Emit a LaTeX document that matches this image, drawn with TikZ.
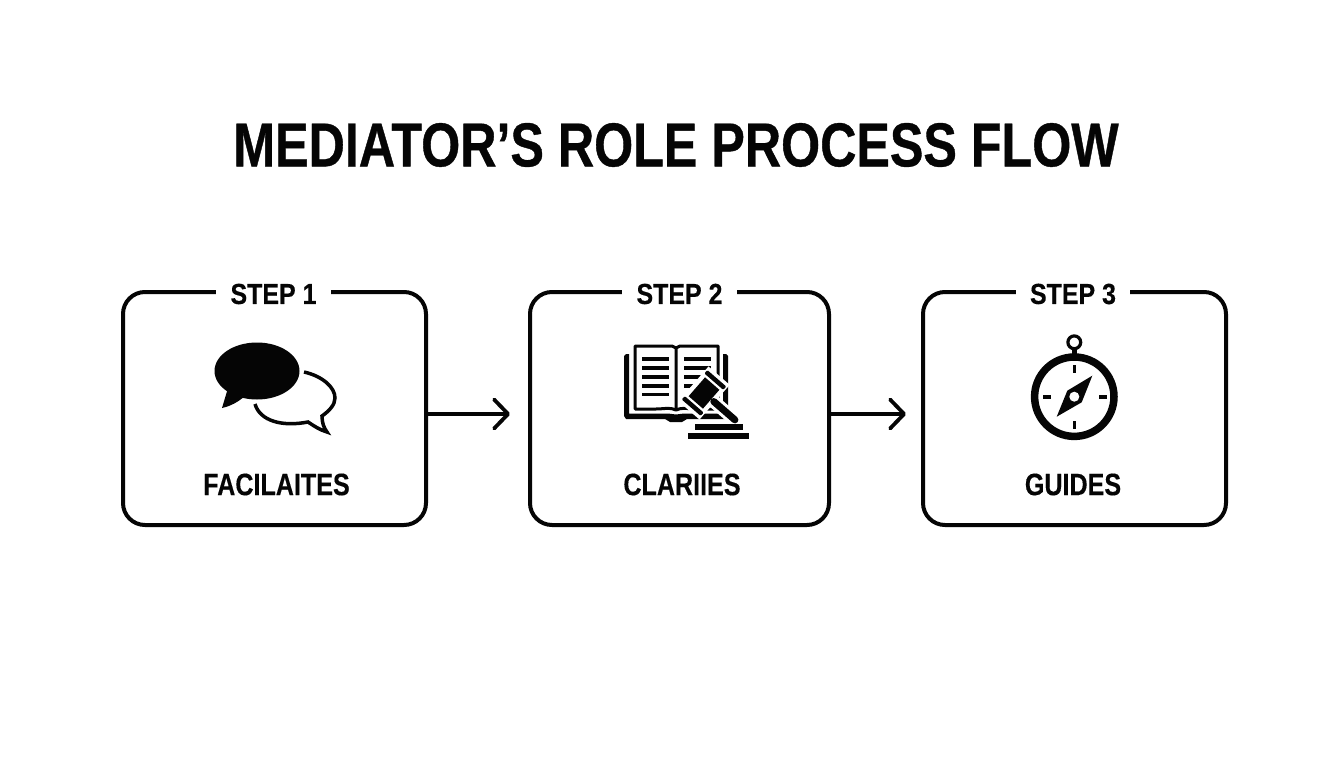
\documentclass[tikz,border=0pt]{standalone}
\usepackage{fontspec}
\setmainfont{Liberation Sans}
\newfontface\titlefont[FakeStretch=0.81,FakeBold=0.6]{Liberation Sans Bold}
\newfontface\labelfont[FakeStretch=0.86,FakeBold=0.3]{Liberation Sans Bold}
\newfontface\namefont[FakeStretch=0.81,FakeBold=0.3]{Liberation Sans Bold}
\usetikzlibrary{arrows.meta}
\definecolor{ink}{HTML}{050505}
\tikzset{
  x=1pt,y=-1pt,
  stepbox/.style={draw=ink,line width=4pt,rounded corners=22pt,inner sep=0pt,outer sep=0pt,fill=white},
  steplabel/.style={fill=white,text=ink,font=\labelfont\fontsize{29}{29}\selectfont,inner xsep=14.5pt,inner ysep=1pt,anchor=center},
  namelabel/.style={text=ink,font=\namefont\fontsize{31}{31}\selectfont,inner sep=0pt,anchor=center},
  flow/.style={draw=ink,line width=3.5pt,-{Straight Barb[length=14pt,width=29pt,line width=3.8pt,round]}},
  glyph/.style={fill=ink,draw=none},
  glyphline/.style={draw=ink,line width=3.5pt,line cap=butt,fill=none},
}
\begin{document}
\begin{tikzpicture}
\useasboundingbox[fill=white] (0,0) rectangle (1344,768);
\node[text=ink,font=\titlefont\fontsize{62}{62}\selectfont,inner sep=0pt] (title) at (676,145) {MEDIATOR’S ROLE PROCESS FLOW};

\node[stepbox,minimum width=303pt,minimum height=233pt] (b1) at (274.5,408.5) {};
\node[stepbox,minimum width=299pt,minimum height=233pt] (b2) at (679.5,408.5) {};
\node[stepbox,minimum width=303pt,minimum height=233pt] (b3) at (1074.5,408.5) {};

\node[steplabel] (s1) at (273.5,294) {STEP 1};
\node[steplabel] (s2) at (679.5,294) {STEP 2};
\node[steplabel] (s3) at (1073,294) {STEP 3};

\node[namelabel] (n1) at (276.5,484.5) {FACILAITES};
\node[namelabel] (n2) at (682,484.5) {CLARIIES};
\node[namelabel] (n3) at (1073,484.5) {GUIDES};

\draw[flow,shorten >=20pt] ([yshift=-5.5pt]b1.east) -- ([yshift=-5.5pt]b2.west);
\draw[flow,shorten >=17pt] ([yshift=-5.5pt]b2.east) -- ([yshift=-5.5pt]b3.west);

% speech bubbles
\fill[ink] (257,371) ellipse [x radius=42.5, y radius=28.5];
\fill[ink] (228,388) -- (222,408) .. controls (231,406) and (238,402) .. (245,396) -- cycle;
\draw[glyphline,line join=miter] (304,372) .. controls (322,376) and (335,387) .. (335,398)
  .. controls (335,405) and (329,411) .. (322,416)
  .. controls (322,423) and (324,428) .. (327,432)
  .. controls (320,430) and (314,426) .. (308,422)
  .. controls (282,427) and (260,421) .. (255,404);

% book
\fill[ink] (624,356) -- (626,354) -- (629,354) -- (629,413.5) -- (668,413.5) -- (676,414.5) -- (684,413.5) -- (723,413.5)
  -- (723,354) -- (726,354) -- (728,356) -- (728,416) -- (727,419) -- (687,419) -- (682,422) -- (670,422) -- (665,419)
  -- (626,419) -- (624,416) -- cycle;
\draw[ink,line width=3pt,line join=round] (676,348) -- (676,410) .. controls (670,407) and (664,409) .. (656,409) -- (635,409) -- (635,346) -- (672,346) -- (676,348)
  -- (680,346) -- (718,346) -- (718,409) -- (696,409) .. controls (688,409) and (682,407) .. (676,410);
\foreach \yy in {359,368,377,386,394.5} \fill[ink] (642,\yy-1.7) rectangle (669,\yy+1.7);
\foreach \yy in {359,368,377,386} \fill[ink] (683.5,\yy-1.7) rectangle (710.5,\yy+1.7);
% gavel
\begin{scope}[shift={(704,393)},rotate=-41]
  \fill[white] (-14,-23) rectangle (14,23);
  \draw[white,line width=13pt,line cap=round] (10,0) -- (42,0);
  \fill[ink] (-9.5,-12.5) rectangle (9.5,12.5);
  \fill[ink,rounded corners=1pt] (-12.5,-19.5) rectangle (12.5,-15);
  \fill[ink,rounded corners=1pt] (-12.5,15) rectangle (12.5,19.5);
  \draw[ink,line width=7pt,line cap=round] (13,0) -- (41,0);
\end{scope}
\fill[ink] (695,424) rectangle (743,429.5);
\fill[ink] (688,433) rectangle (749,439);

% compass
\draw[ink,line width=3.2pt] (1074.3,342.3) circle [radius=6.4];
\fill[ink] (1072,348) rectangle (1076.6,356);
\draw[ink,line width=7.5pt,fill=white] (1074.3,396.7) circle [radius=39.7];
\fill[ink] (1072.5,365) rectangle (1076.1,373);
\fill[ink] (1072.5,421) rectangle (1076.1,429);
\fill[ink] (1042.5,394.9) rectangle (1050.5,398.5);
\fill[ink] (1098.5,394.9) rectangle (1106.5,398.5);
\fill[ink] (1092.3,375.7) -- (1081.7,402.3) -- (1056.7,416.7) -- (1067.3,390.7) -- cycle;
\fill[white] (1074.3,396.7) circle [radius=5];
\end{tikzpicture}
\end{document}
